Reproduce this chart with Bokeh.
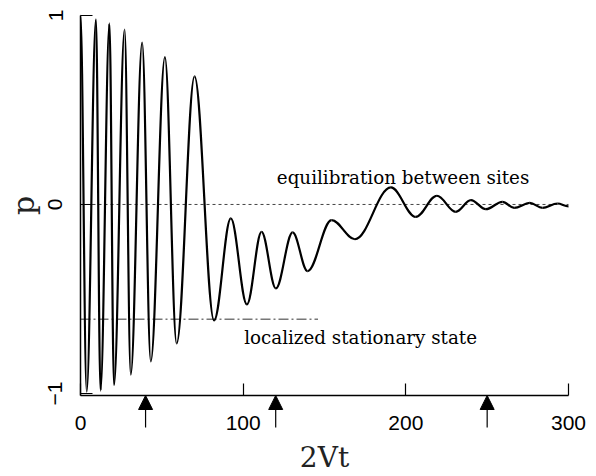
import numpy as np
from bokeh.plotting import figure
from bokeh.models import (Range1d, FixedTicker, Arrow, NormalHead, LinearAxis,
                          ColumnDataSource, Label)
from bokeh.embed import file_html
from bokeh.resources import INLINE

# ---- data ----
# local extrema of p(2Vt) (turning points of the curve)
t_ext = [0, 3.8, 9.5, 12.3, 17.8, 20.6, 27.1, 30.9, 37.9, 43.2,
         51.9, 59.1, 70.1, 82.1, 92.4, 102.3, 111.3, 120.1, 130.4, 139.6,
         154.3, 168.7, 190.8, 206.1, 219.1, 230.7, 240.0, 249.2, 259.4, 266.6,
         276.2, 284.0, 293.2, 300.0]
p_ext = [1.0, -0.99, 0.98, -0.985, 0.958, -0.956, 0.925, -0.90, 0.857, -0.83,
         0.78, -0.735, 0.678, -0.614, -0.074, -0.529, -0.145, -0.444, -0.148, -0.353,
         -0.083, -0.184, 0.09, -0.066, 0.046, -0.039, 0.023, -0.025, 0.014, -0.018,
         0.008, -0.018, 0.005, -0.01]

equilibrium_level = 0.0
stationary_level = -0.607
stationary_end = 146
arrow_t = [40, 120, 250]

x_ticks = [0, 100, 200, 300]
y_ticks = [-1, 0, 1]
t_min, t_max = 0, 300
p_min, p_max = -1.011, 1.0

label_equil = "equilibration between sites"
label_local = "localized stationary state"

# ---- figure: the frame fills the canvas, axes are placed at fixed data locations ----
W, H = 596, 476
ax_left, ax_right, ax_top, ax_bottom = 80, 568, 15, 395   # pixel placement of the axes
sx = (ax_right - ax_left) / (t_max - t_min)
sy = (ax_bottom - ax_top) / (p_max - p_min)
xr = Range1d(t_min - ax_left / sx, t_max + (W - ax_right) / sx)
yr = Range1d(p_min - (H - ax_bottom) / sy, p_max + ax_top / sy)

p = figure(width=W, height=H, x_range=xr, y_range=yr,
           output_backend="svg", toolbar_location=None,
           x_axis_location=None, y_axis_location=None,
           min_border_left=0, min_border_right=0, min_border_top=0, min_border_bottom=0)
p.outline_line_color = None
p.grid.visible = False
p.background_fill_color = "white"
p.border_fill_color = "white"

xaxis = LinearAxis(fixed_location=p_min, bounds=(t_min, t_max), ticker=FixedTicker(ticks=x_ticks))
yaxis = LinearAxis(fixed_location=t_min, bounds=(p_min, p_max), ticker=FixedTicker(ticks=y_ticks))
for ax in (xaxis, yaxis):
    ax.major_tick_in = 12
    ax.major_tick_out = 0
    ax.minor_tick_in = 0
    ax.minor_tick_out = 0
    ax.axis_line_width = 1.5
    ax.axis_line_color = "black"
    ax.major_tick_line_width = 1.2
    ax.major_label_text_font = "Liberation Sans"
    ax.major_label_text_font_size = "21px"
    ax.major_label_text_color = "black"
xaxis.major_label_standoff = 20
yaxis.major_label_standoff = 18
yaxis.major_label_orientation = "vertical"
p.add_layout(xaxis, "below")
p.add_layout(yaxis, "left")

# axis titles
p.add_layout(Label(x=(t_min + t_max) / 2, y=p_min - 62 / sy, text="2Vt",
                   text_font="DejaVu Serif", text_font_size="28px", text_color="#222222",
                   text_align="center", text_baseline="middle"))
p.add_layout(Label(x=t_min - 57 / sx, y=(p_min + p_max) / 2, text="p", angle=np.pi / 2,
                   text_font="DejaVu Serif", text_font_size="30px", text_color="#222222",
                   text_align="center", text_baseline="middle"))

# reference lines
p.segment(x0=[t_min], y0=[equilibrium_level], x1=[t_max], y1=[equilibrium_level],
          line_color="#444444", line_width=1, line_dash="3 3")
p.segment(x0=[t_min], y0=[stationary_level], x1=[stationary_end], y1=[stationary_level],
          line_color="#777777", line_width=1.5, line_dash="10 3 2 3")

# curve: smooth cubic segments between successive turning points
t = np.array(t_ext, dtype=float)
v = np.array(p_ext, dtype=float)
k = 0.36
dt = t[1:] - t[:-1]
src = ColumnDataSource(dict(
    x0=t[:-1], y0=v[:-1], x1=t[1:], y1=v[1:],
    cx0=t[:-1] + k * dt, cy0=v[:-1], cx1=t[1:] - k * dt, cy1=v[1:]))
p.bezier(x0="x0", y0="y0", x1="x1", y1="y1", cx0="cx0", cy0="cy0", cx1="cx1", cy1="cy1",
         source=src, line_color="black", line_width=2.2)

# annotations
p.add_layout(Label(x=120.7, y=0.145, text=label_equil, text_font="DejaVu Serif",
                   text_font_size="18.3px", text_color="black", text_baseline="alphabetic"))
p.add_layout(Label(x=100.6, y=-0.704, text=label_local, text_font="DejaVu Serif",
                   text_font_size="18.3px", text_color="black", text_baseline="alphabetic"))

# arrows under the axis, pointing at it
asrc = ColumnDataSource(dict(x=arrow_t, ys=[p_min - 32 / sy] * len(arrow_t),
                             ye=[p_min] * len(arrow_t)))
p.add_layout(Arrow(x_start="x", y_start="ys", x_end="x", y_end="ye", source=asrc,
                   line_width=1.2, line_color="black",
                   end=NormalHead(size=14, fill_color="black", line_color="black")))

open("out.html", "w").write(file_html(p, INLINE))
